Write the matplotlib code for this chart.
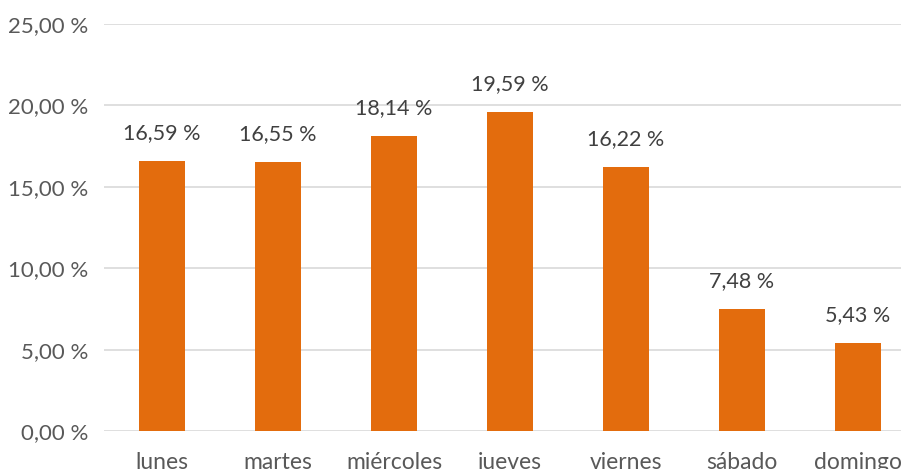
import matplotlib
matplotlib.use("Agg")
import matplotlib.pyplot as plt

categories = ["lunes", "martes", "miércoles", "jueves", "viernes", "sábado", "domingo"]
values = [16.59, 16.55, 18.14, 19.59, 16.22, 7.48, 5.43]
yticks = [0, 5, 10, 15, 20, 25]

plt.rcParams['font.family'] = ['Lato', 'DejaVu Sans']

def fmt(v):
    return f"{v:.2f}".replace(".", ",") + " %"

fig = plt.figure(figsize=(9.01, 4.69), dpi=100)
ax = fig.add_axes([104/901, 1-431/469, 812/901, 407/469])
x = range(len(categories))
ax.bar(x, values, width=0.4, color="#E36C0D", zorder=3)
for i, v in enumerate(values):
    ax.text(i, v + 1.1, fmt(v), ha="center", va="bottom", fontsize=15.5, color="#404040")
ax.set_xlim(-0.5, len(categories) - 0.5)
ax.set_ylim(0, 25)
ax.set_yticks(yticks)
ax.set_yticklabels([fmt(t) for t in yticks], fontsize=16, color="#595959")
ax.set_xticks(list(x))
ax.set_xticklabels(categories, fontsize=16.5, color="#595959")
ax.grid(axis="y", color="#D9D9D9", linewidth=1.2, zorder=0)
for s in ax.spines.values():
    s.set_visible(False)
ax.tick_params(axis="both", length=0)
ax.tick_params(axis="y", pad=11)
ax.tick_params(axis="x", pad=15)
fig.savefig("out.png", dpi=100)
